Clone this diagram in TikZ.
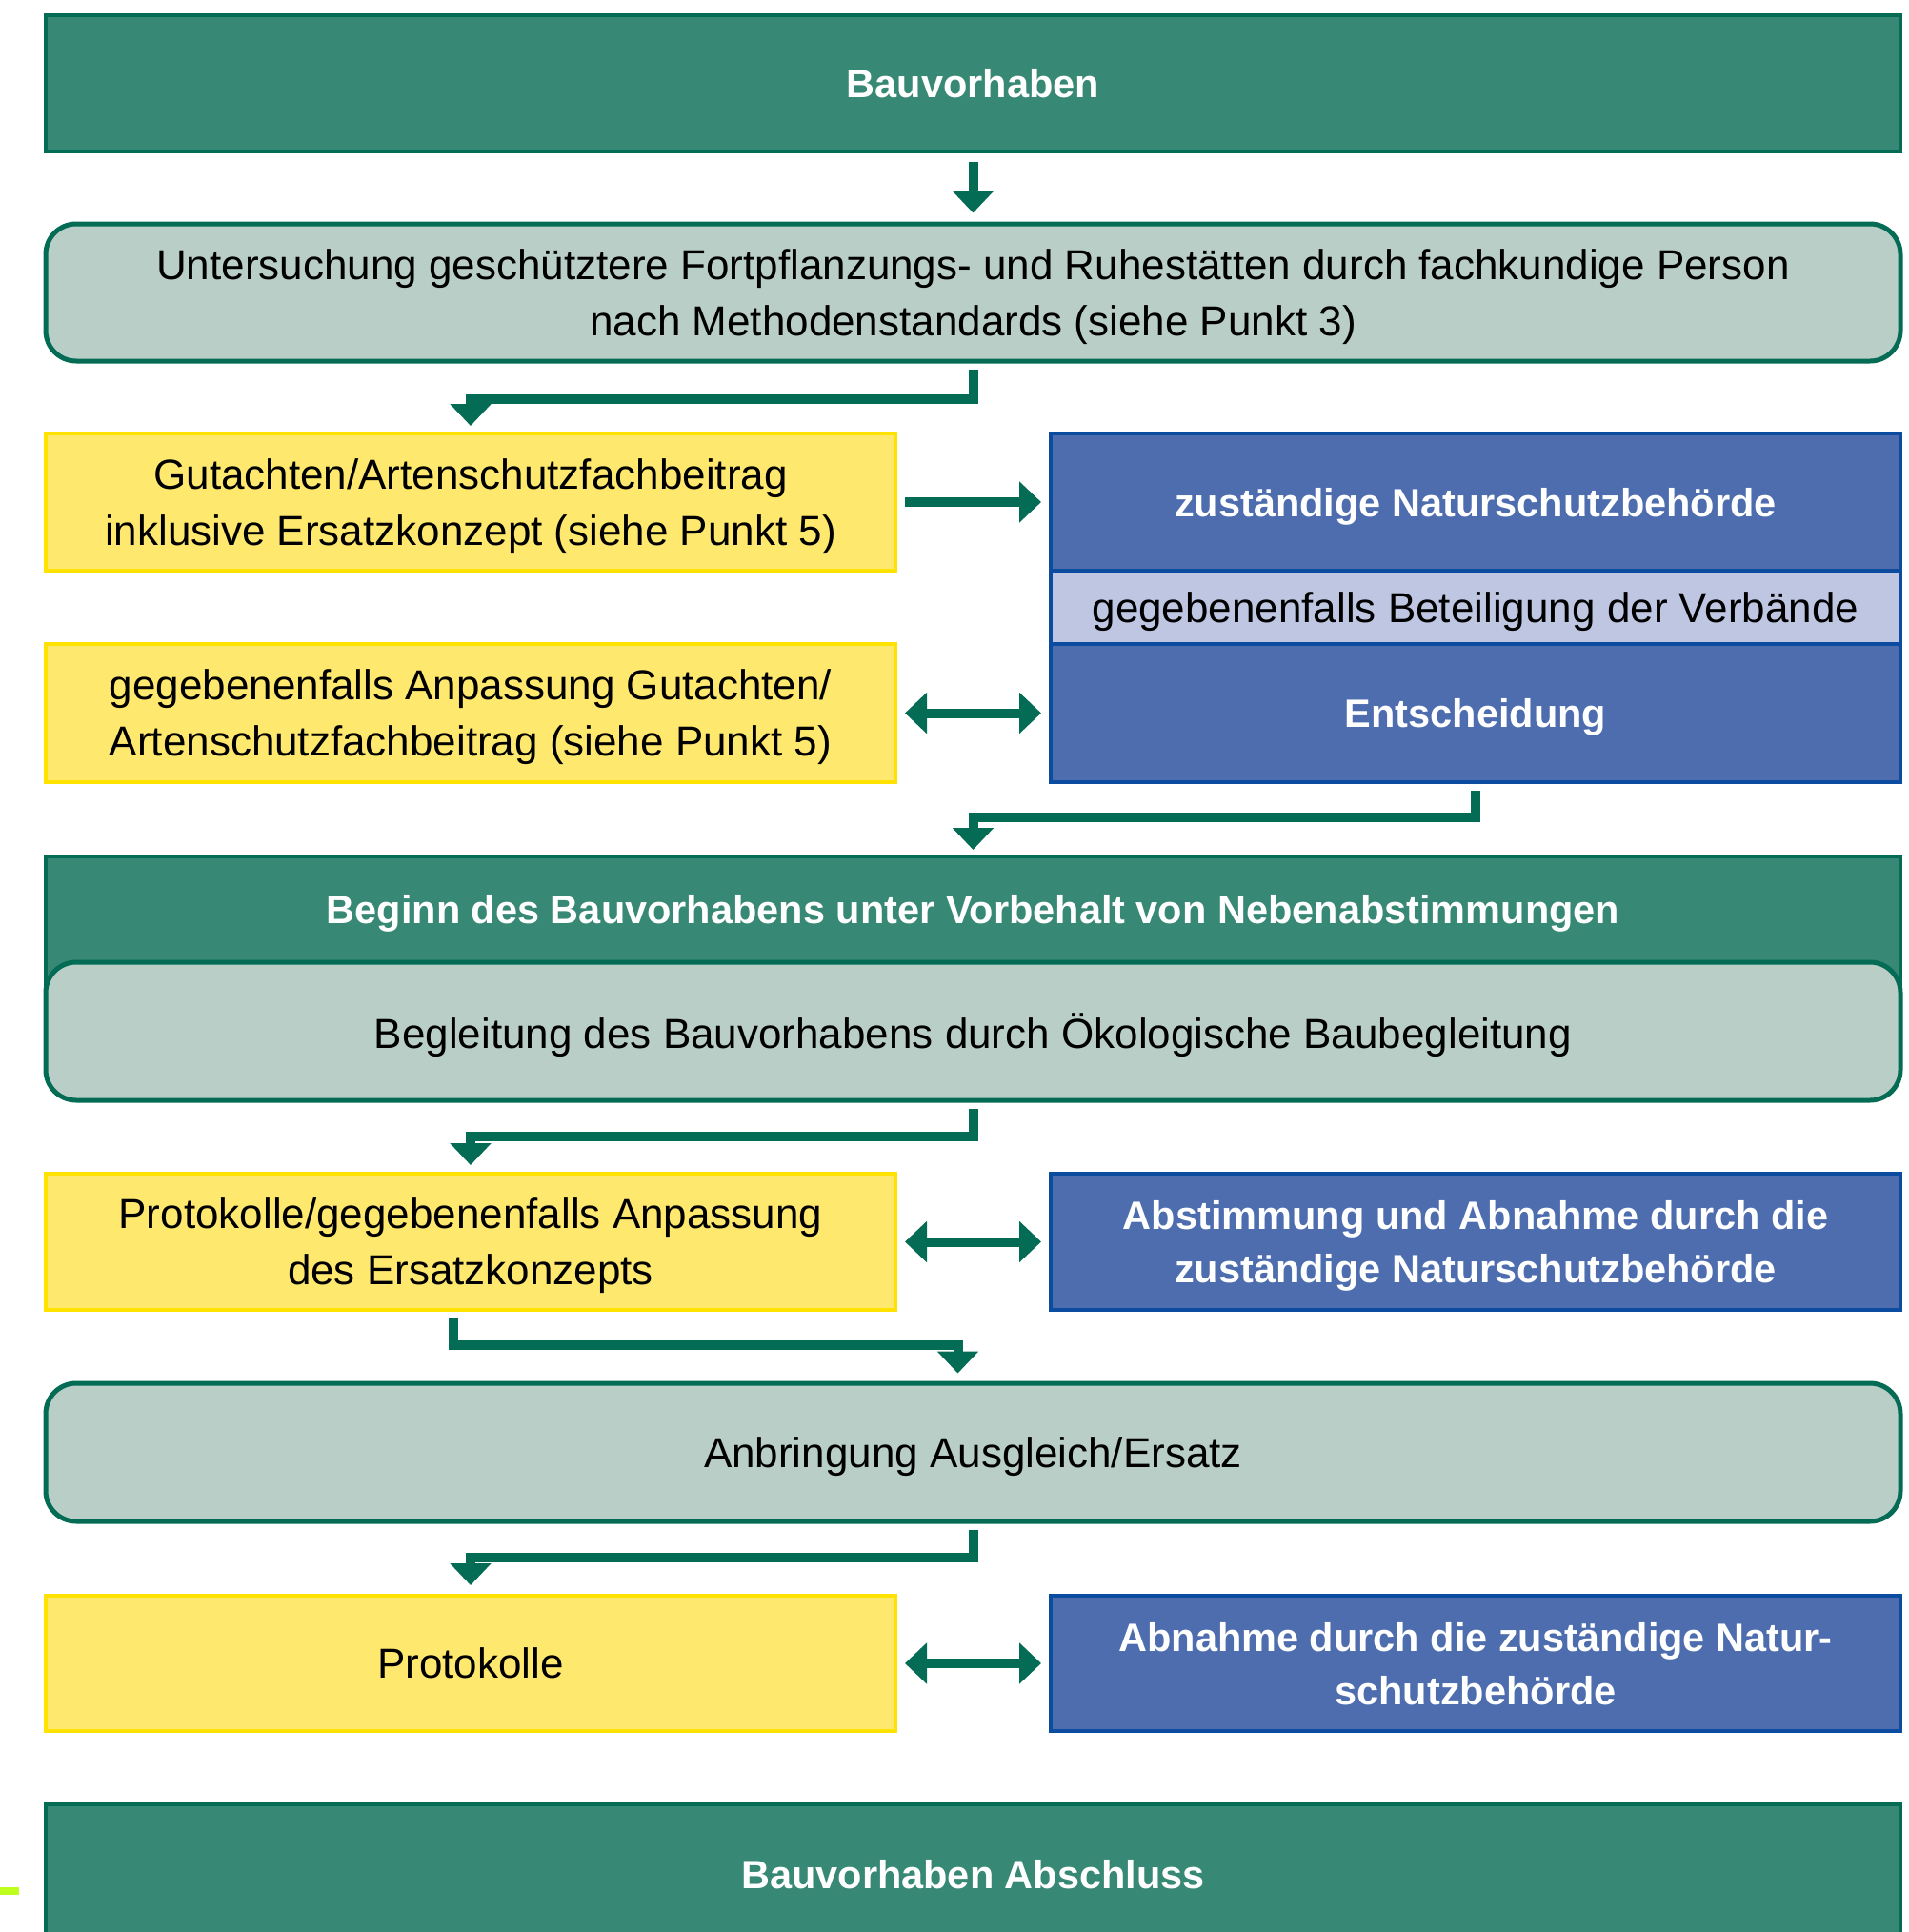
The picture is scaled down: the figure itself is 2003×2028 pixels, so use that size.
\documentclass[tikz,border=0pt]{standalone}
\usepackage{fontspec}
\setmainfont{Liberation Sans}
\usepackage{tikz}
\usetikzlibrary{positioning,arrows.meta}

\definecolor{dunkelgruen}{RGB}{4,108,84}
\definecolor{gruen}{RGB}{55,136,116}
\definecolor{graugruen}{RGB}{184,206,199}
\definecolor{gelb}{RGB}{255,232,110}
\definecolor{gelbrand}{RGB}{255,226,0}
\definecolor{blau}{RGB}{77,109,175}
\definecolor{blaurand}{RGB}{12,76,160}
\definecolor{lila}{RGB}{190,198,225}
\definecolor{limette}{RGB}{190,255,30}

\newcommand{\normalschrift}{\fontsize{44}{59}\selectfont}
\newcommand{\fettschrift}{\bfseries\fontsize{41.5}{56}\selectfont}

\tikzset{
  kasten/.style={inner sep=0pt, align=center, text depth=0pt, minimum width=892pt, minimum height=144pt},
  gruenbox/.style={kasten, draw=dunkelgruen, fill=gruen, line width=4pt,
    minimum width=1947pt, text=white, font=\fettschrift},
  graubox/.style={kasten, draw=dunkelgruen, fill=graugruen, line width=5pt,
    rounded corners=32pt, minimum width=1947pt, font=\normalschrift},
  gelbbox/.style={kasten, draw=gelbrand, fill=gelb, line width=4pt, font=\normalschrift},
  blaubox/.style={kasten, draw=blaurand, fill=blau, line width=4pt, text=white, font=\fettschrift},
  lilabox/.style={kasten, draw=blaurand, fill=lila, line width=4pt, font=\normalschrift},
  pfeil/.style={draw=dunkelgruen, line width=10pt, -{Triangle[length=23pt,width=42pt]}},
  doppelpfeil/.style={pfeil, {Triangle[length=23pt,width=42pt]}-{Triangle[length=23pt,width=42pt]}}
}

\begin{document}
\begin{tikzpicture}[x=1pt,y=-1pt]
\useasboundingbox (0,0) rectangle (2003,2028);

% Kopf
\node[gruenbox, minimum height=143pt] (bau) at (1021.5,87.5) {Bauvorhaben};
\node[graubox] (unters) at (1021.5,307) {Untersuchung geschütztere Fortpflanzungs- und Ruhestätten durch fachkundige Person\\nach Methodenstandards (siehe Punkt 3)};

% Gutachten und Behoerde
\node[gelbbox] (gutachten) at (494,527) {Gutachten/Artenschutzfachbeitrag\\inklusive Ersatzkonzept (siehe Punkt 5)};
\node[blaubox] (behoerde) at (1549,527) {zuständige Naturschutzbehörde};
\node[lilabox, minimum height=77pt] (verbaende) at (1549,637.5) {gegebenenfalls Beteiligung der Verbände};
\node[blaubox, minimum height=145pt] (entscheid) at (1549,748.5) {Entscheidung};
\node[gelbbox, minimum height=145pt] (anpassung) at (494,748.5) {gegebenenfalls Anpassung Gutachten/\\Artenschutzfachbeitrag (siehe Punkt 5)};

% Bauphase
\node[gruenbox, minimum height=153pt, anchor=north] (beginn) at (1021.5,897) {};
\node[text=white, font=\fettschrift, inner sep=0pt, text depth=0pt] (beginntext) at (1021.5,954) {Beginn des Bauvorhabens unter Vorbehalt von Nebenabstimmungen};
\node[graubox, minimum height=145pt] (begleitung) at (1021.5,1082.5) {Begleitung des Bauvorhabens durch Ökologische Baubegleitung};

\node[gelbbox, minimum height=143pt] (protokolle) at (494,1303.5) {Protokolle/gegebenenfalls Anpassung\\des Ersatzkonzepts};
\node[blaubox, minimum height=143pt] (abstimmung) at (1549,1303.5) {Abstimmung und Abnahme durch die\\zuständige Naturschutzbehörde};

\node[graubox, minimum height=145pt] (anbringung) at (1021.5,1524.5) {Anbringung Ausgleich/Ersatz};

\node[gelbbox, minimum height=142pt] (protokolleb) at (494,1746) {Protokolle};
\node[blaubox, minimum height=142pt] (abnahme) at (1549,1746) {Abnahme durch die zuständige Natur-\\schutzbehörde};

% Abschluss
\node[gruenbox, minimum height=146pt] (abschluss) at (1021.5,1967) {Bauvorhaben Abschluss};
\fill[limette] (0,1981) rectangle (20,1989);

% Pfeile
\draw[pfeil] ([yshift=-9pt]bau.south) -- ([yshift=9pt]unters.north);
\draw[pfeil] ([yshift=-6pt]unters.south) -- ++(0,31) -| ([yshift=6pt]gutachten.north);
\draw[pfeil] ([xshift=8pt]gutachten.east) -- ([xshift=-8pt]behoerde.west);
\draw[doppelpfeil] ([xshift=8pt]anpassung.east) -- ([xshift=-8pt]entscheid.west);
\draw[pfeil] ([yshift=-7pt]entscheid.south) -- ++(0,28) -| ([yshift=5pt]beginn.north);
\draw[pfeil] ([yshift=-6pt]begleitung.south) -- ++(0,29) -| ([yshift=7pt]protokolle.north);
\draw[doppelpfeil] ([xshift=8pt]protokolle.east) -- ([xshift=-8pt]abstimmung.west);
\draw[pfeil] ([xshift=-18pt,yshift=-6pt]protokolle.south) -- ++(0,29) -| ([xshift=-16pt,yshift=8pt]anbringung.north);
\draw[pfeil] ([yshift=-6pt]anbringung.south) -- ++(0,29) -| ([yshift=9pt]protokolleb.north);
\draw[doppelpfeil] ([xshift=8pt]protokolleb.east) -- ([xshift=-8pt]abnahme.west);
\end{tikzpicture}
\end{document}
